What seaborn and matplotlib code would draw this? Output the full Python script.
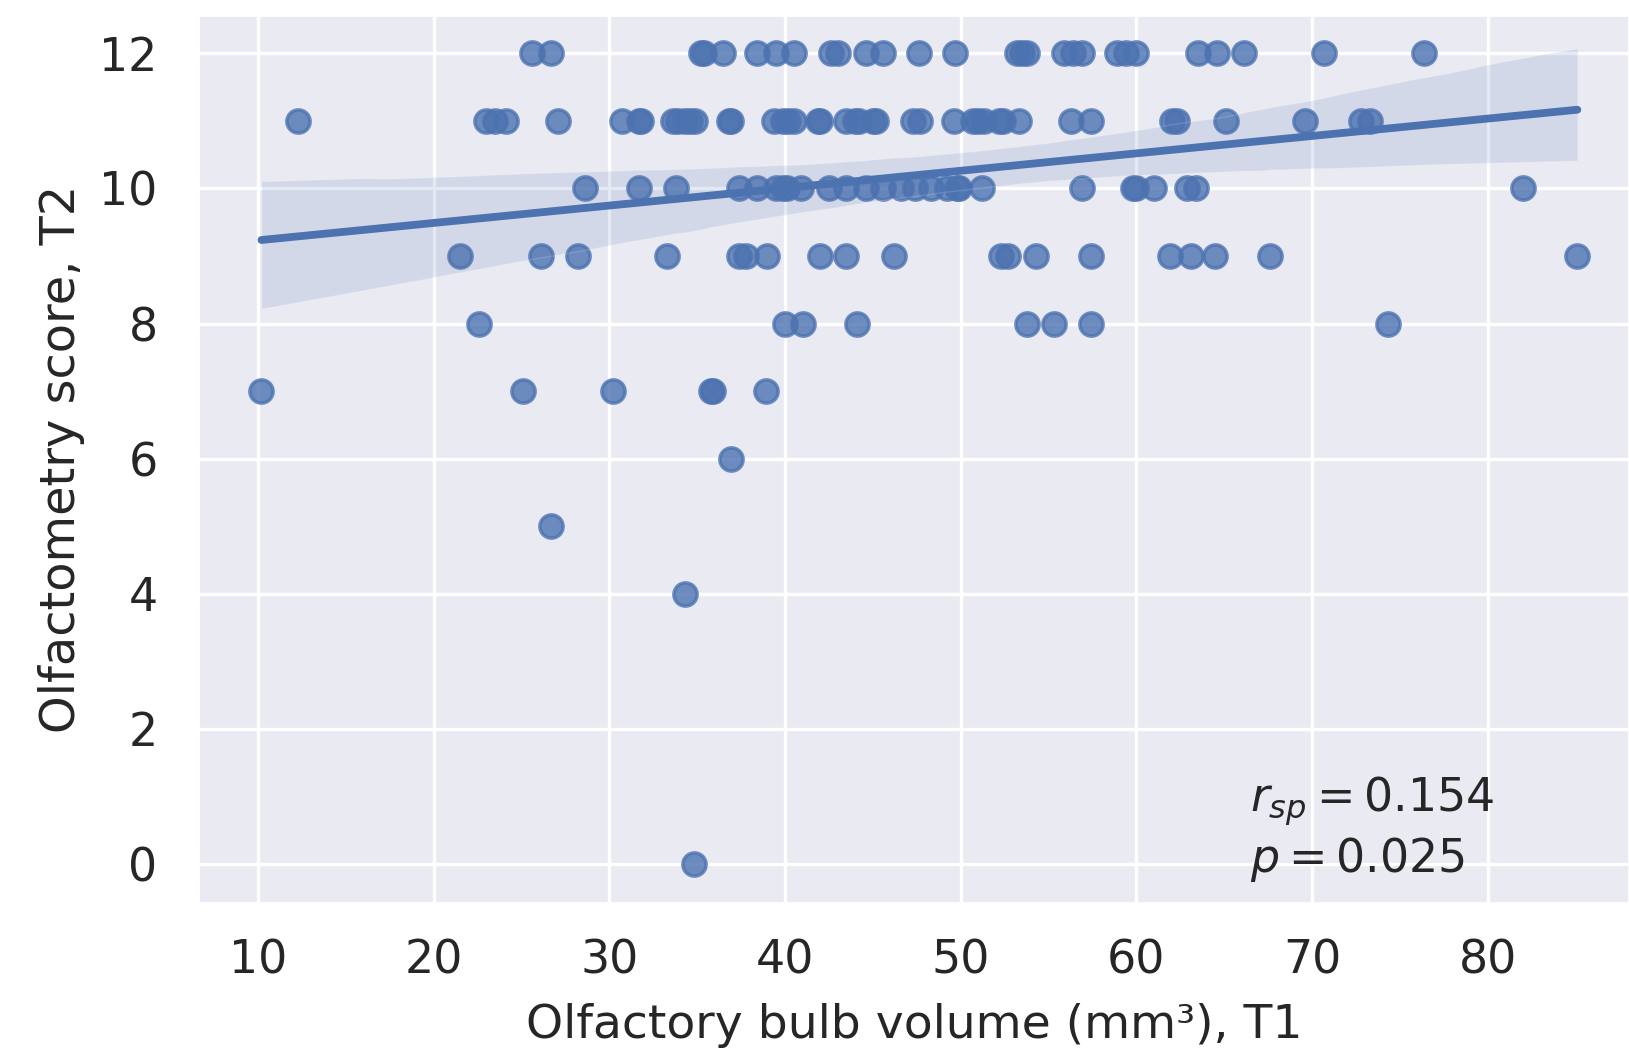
import numpy as np
import pandas as pd
import matplotlib
matplotlib.use("Agg")
import matplotlib.pyplot as plt
import seaborn as sns

# Olfactometry score (T2) rows and the bulb volumes (T1) read for each row
vol_score12 = [25.6, 26.7, 35.2, 35.4, 36.5, 38.4, 39.5, 40.5, 42.6, 43.0, 44.6, 45.6,
               47.6, 49.7, 53.2, 53.5, 53.8, 55.9, 56.4, 56.9, 58.9, 59.4, 60.0, 63.5,
               64.6, 66.1, 70.7, 76.4]
vol_score11 = [12.3, 23.0, 23.5, 24.1, 27.1, 30.7, 31.7, 31.8, 33.6, 33.9, 34.3, 34.6,
               34.9, 36.8, 36.9, 39.4, 39.9, 40.2, 40.5, 41.9, 42.0, 43.5, 44.0, 44.2,
               45.0, 45.2, 47.3, 47.7, 49.6, 50.7, 51.0, 51.3, 52.2, 52.4, 53.3, 56.3,
               57.4, 62.0, 62.3, 65.1, 69.6, 72.8, 73.3]
vol_score10 = [28.6, 31.7, 33.8, 37.4, 38.4, 39.5, 39.9, 40.1, 40.9, 42.5, 43.5, 44.6,
               45.6, 46.6, 47.4, 48.3, 49.2, 49.8, 49.9, 51.2, 56.9, 59.8, 60.0, 61.0,
               62.9, 63.4, 82.0]
vol_score9 = [21.5, 26.1, 28.2, 33.3, 37.4, 37.8, 39.0, 42.0, 43.5, 46.2, 52.3, 52.7,
              54.3, 57.4, 61.9, 63.1, 64.5, 67.6, 85.1]
vol_score8 = [22.6, 40.0, 41.0, 44.1, 53.8, 55.3, 57.4, 74.3]
vol_score7 = [10.2, 25.1, 30.2, 35.8, 35.9, 38.9]
vol_score6 = [36.9]
vol_score5 = [26.7]
vol_score4 = [34.3]
vol_score0 = [34.8]

rows = {12: vol_score12, 11: vol_score11, 10: vol_score10, 9: vol_score9,
        8: vol_score8, 7: vol_score7, 6: vol_score6, 5: vol_score5,
        4: vol_score4, 0: vol_score0}

xticks = [10, 20, 30, 40, 50, 60, 70, 80]
yticks = [0, 2, 4, 6, 8, 10, 12]
xlabel = "Olfactory bulb volume (mm³), T1"
ylabel = "Olfactometry score, T2"
annot_r = r"$r_{sp} = 0.154$"
annot_p = r"$p = 0.025$"

df = pd.DataFrame([(v, s) for s, vs in rows.items() for v in vs],
                  columns=["volume", "score"])

sns.set_theme(style="darkgrid", rc={"grid.linewidth": 2.4,
                                   "axes.facecolor": "#EAEAF2"})
plt.rcParams['font.family'] = ['DejaVu Sans']

fig = plt.figure(figsize=(16.29, 10.52), dpi=100)
ax = fig.add_axes([0.1223, 0.1419, 1 - 0.1223, 0.9851 - 0.1419])

sns.regplot(data=df, x="volume", y="score", ax=ax, color="#4C72B0",
            seed=3, scatter_kws={"s": 280, "linewidths": 2.5, "alpha": 0.8},
            line_kws={"lw": 5.6})

ax.set_xlim(6.66, 88.04)
ax.set_ylim(-0.573, 12.557)
ax.set_xticks(xticks)
ax.set_yticks(yticks)
ax.tick_params(axis="both", labelsize=33, length=0, colors=".15")
ax.tick_params(axis="x", pad=26)
ax.tick_params(axis="y", pad=30)
ax.set_xlabel(xlabel, fontsize=34, color=".15", labelpad=14)
ax.set_ylabel(ylabel, fontsize=34.5, color=".15", labelpad=10)

ax.text(0.7349, 0.1026, annot_r, transform=ax.transAxes, fontsize=33,
        color=".15", ha="left", va="baseline")
ax.text(0.7349, 0.035, annot_p, transform=ax.transAxes, fontsize=33,
        color=".15", ha="left", va="baseline")

fig.savefig("out.png", dpi=100)
